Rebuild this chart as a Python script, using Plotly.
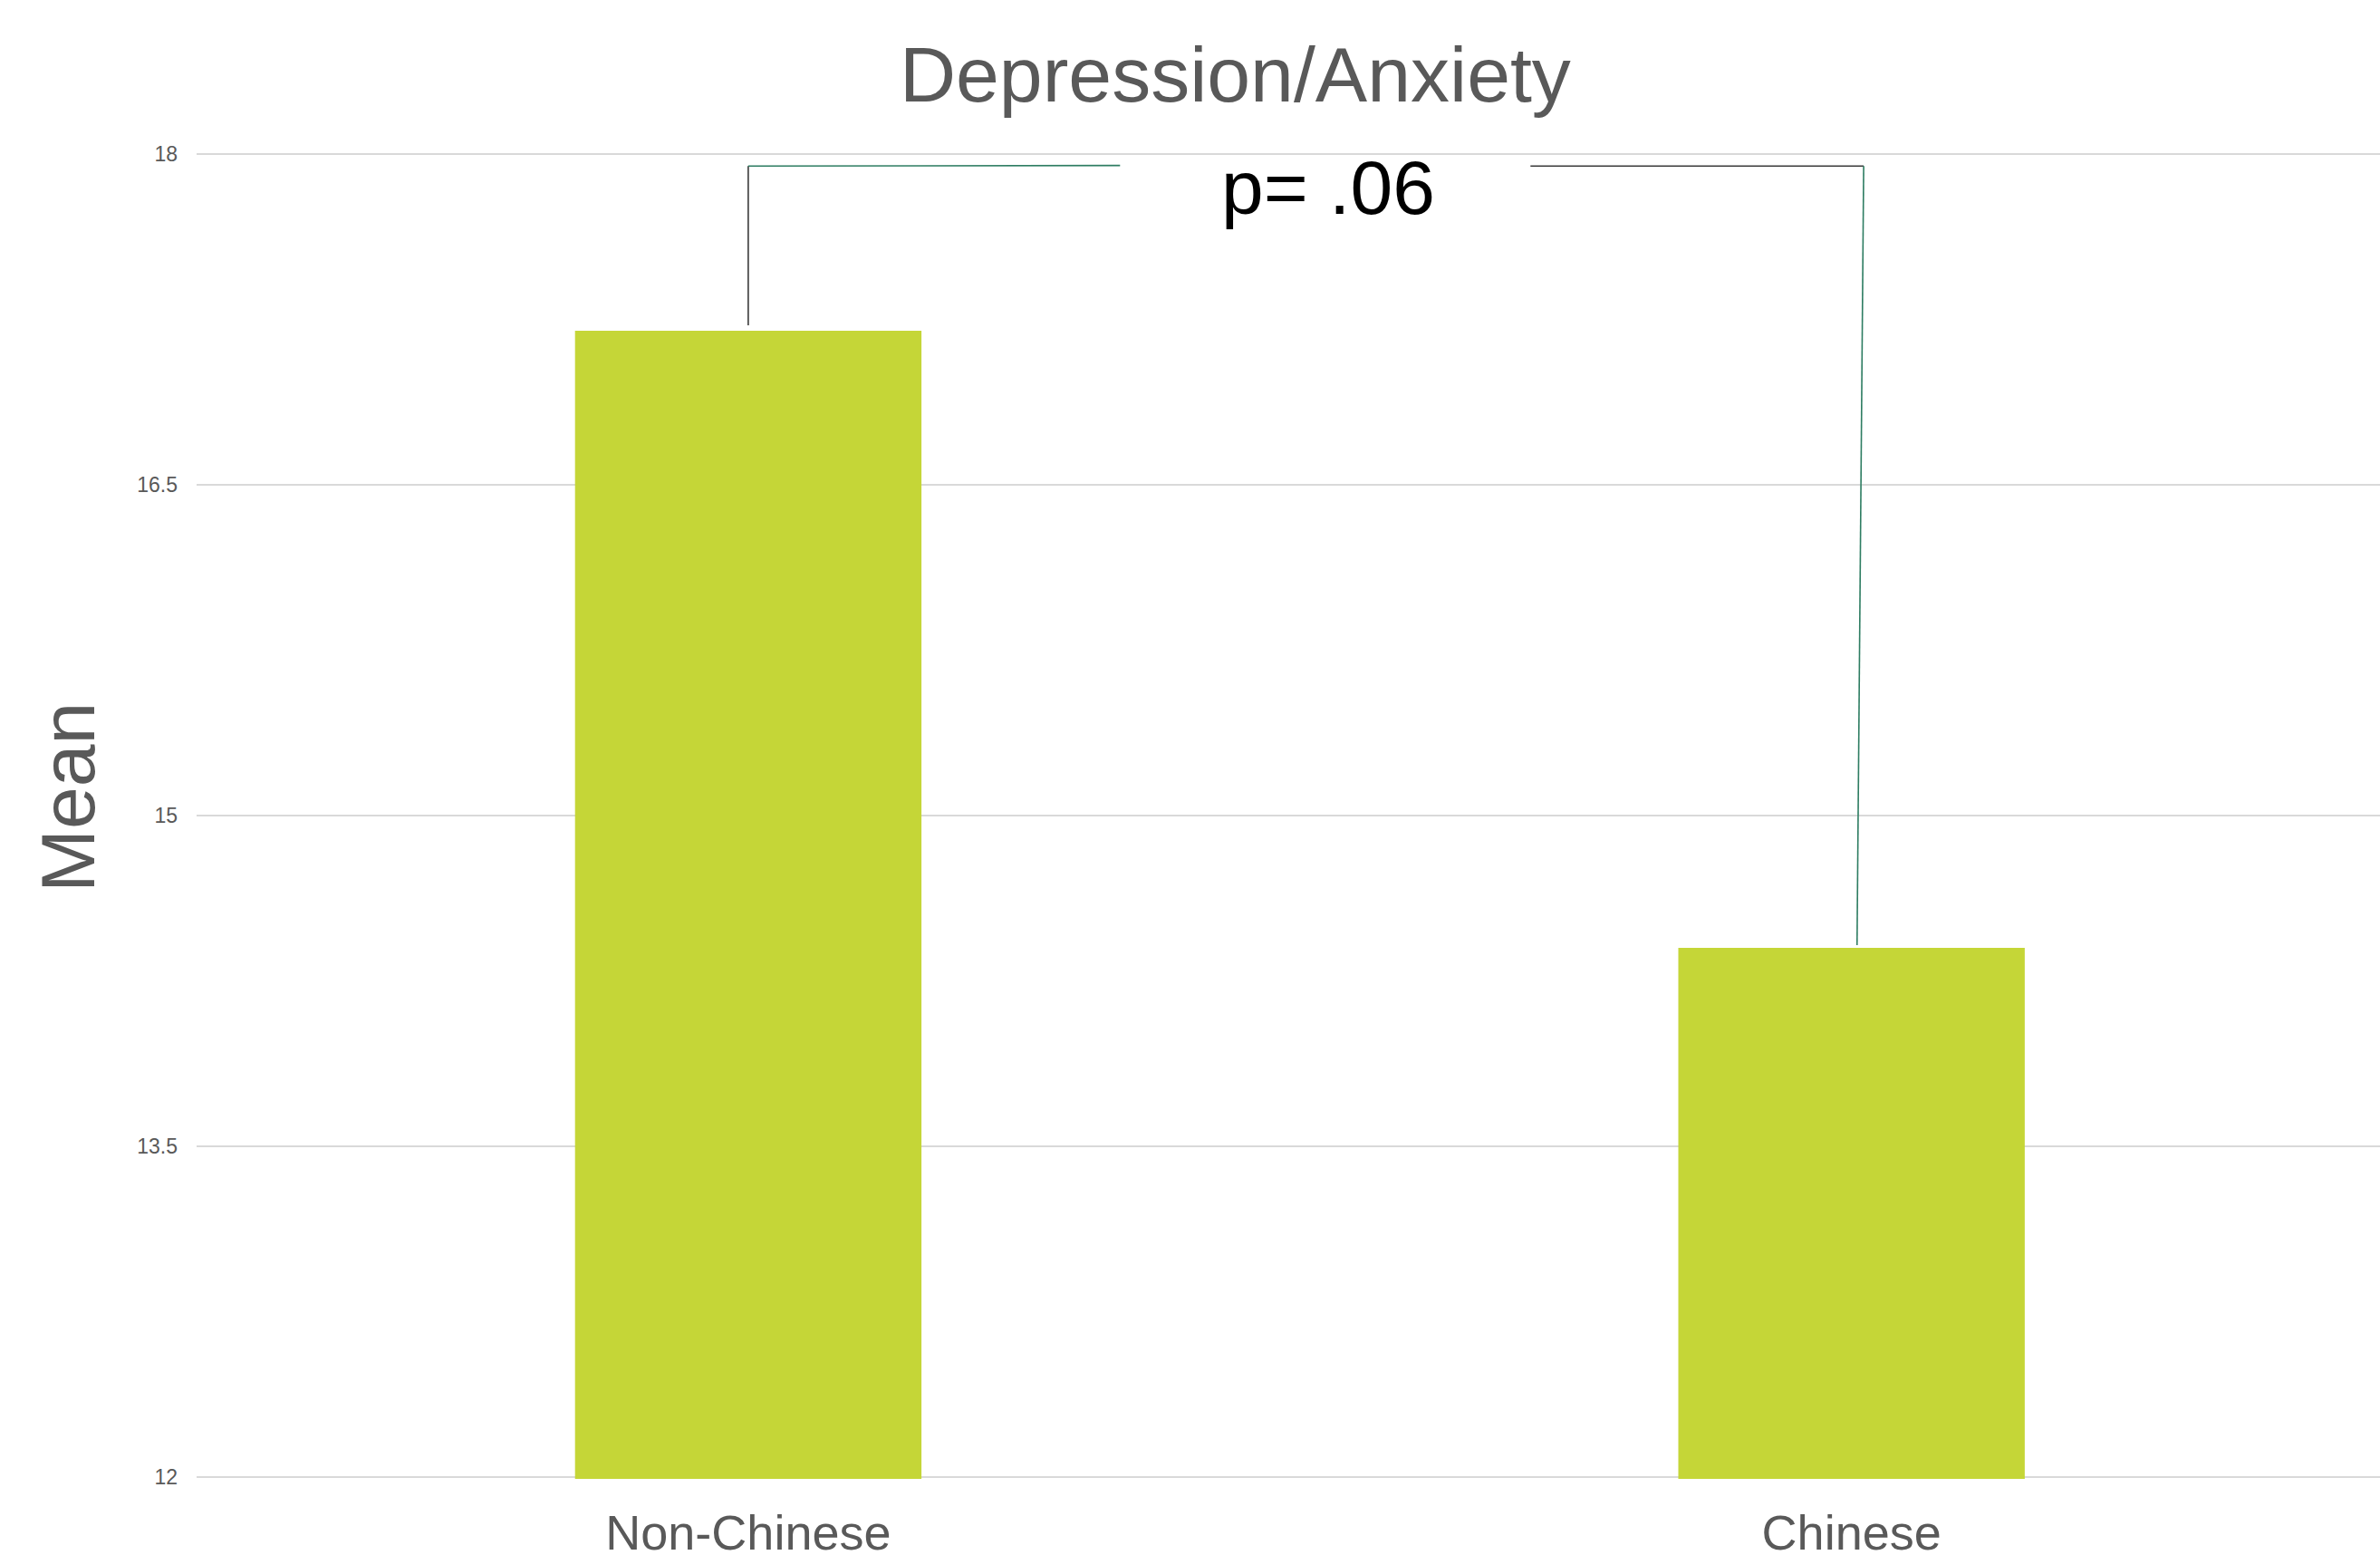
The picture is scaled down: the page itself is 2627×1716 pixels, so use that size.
import plotly.graph_objects as go

# Mean depression/anxiety scores by group
groups = ["Non-Chinese", "Chinese"]
means = [17.2, 14.4]
y_ticks = [12, 13.5, 15, 16.5, 18]
y_tick_labels = ["12", "13.5", "15", "16.5", "18"]
p_label = "p= .06"

BAR_COLOR = "#c5d637"
TEXT_GREY = "#595959"
GRID_GREY = "#d9d9d9"
FONT = "Liberation Sans, Arial, sans-serif"

fig = go.Figure(
    go.Bar(
        x=groups,
        y=means,
        width=0.314,
        marker=dict(color=BAR_COLOR, line=dict(width=0)),
        hoverinfo="skip",
    )
)

# significance bracket joining the two bars
top = 17.947
gap_left, gap_right = 0.337, 0.709
dark = "#3a3a3a"
green = "#2e7d62"
bracket = [
    (0, means[0] + 0.025, 0, top, dark),
    (0, top, gap_left, top + 0.003, green),
    (gap_right, top, 1.011, top, dark),
    (1.011, top, 1.005, means[1] + 0.012, green),
]
shapes = [
    dict(type="line", xref="x", yref="y", x0=a, y0=b, x1=c, y1=d,
         line=dict(color=col, width=1.6))
    for a, b, c, d, col in bracket
]

fig.update_layout(
    width=2627,
    height=1716,
    paper_bgcolor="white",
    plot_bgcolor="white",
    margin=dict(l=217, r=0, t=168, b=84, autoexpand=False),
    showlegend=False,
    font=dict(family=FONT, color=TEXT_GREY),
    title=dict(
        text="Depression/Anxiety",
        x=0.519,
        xanchor="center",
        y=0.970,
        yanchor="top",
        font=dict(size=86, color=TEXT_GREY, family=FONT),
    ),
    shapes=shapes,
    annotations=[
        dict(
            text=p_label, x=0.5255, y=17.85, xref="x", yref="y",
            showarrow=False, xanchor="center", yanchor="middle",
            font=dict(size=84, color="black", family=FONT),
        ),
        dict(
            text="Mean", x=(75 - 217) / 2410, y=(1630 - 878) / 1464,
            xref="paper", yref="paper",
            showarrow=False, textangle=-90, xanchor="center", yanchor="middle",
            font=dict(size=84, color=TEXT_GREY, family=FONT),
        ),
    ],
    xaxis=dict(
        range=[-0.5, 1.479],
        showgrid=False,
        zeroline=False,
        showline=False,
        ticks="",
        automargin=False,
        tickfont=dict(size=54, color=TEXT_GREY, family=FONT),
        ticklabelstandoff=23,
    ),
    yaxis=dict(
        range=[11.99, 18.01],
        tickvals=y_ticks,
        ticktext=y_tick_labels,
        showgrid=True,
        gridcolor=GRID_GREY,
        gridwidth=2,
        zeroline=False,
        showline=False,
        ticks="",
        automargin=False,
        tickfont=dict(size=23, color=TEXT_GREY, family=FONT),
        ticklabelstandoff=20,
    ),
)

fig.write_html("out.html", config={"displayModeBar": False})
